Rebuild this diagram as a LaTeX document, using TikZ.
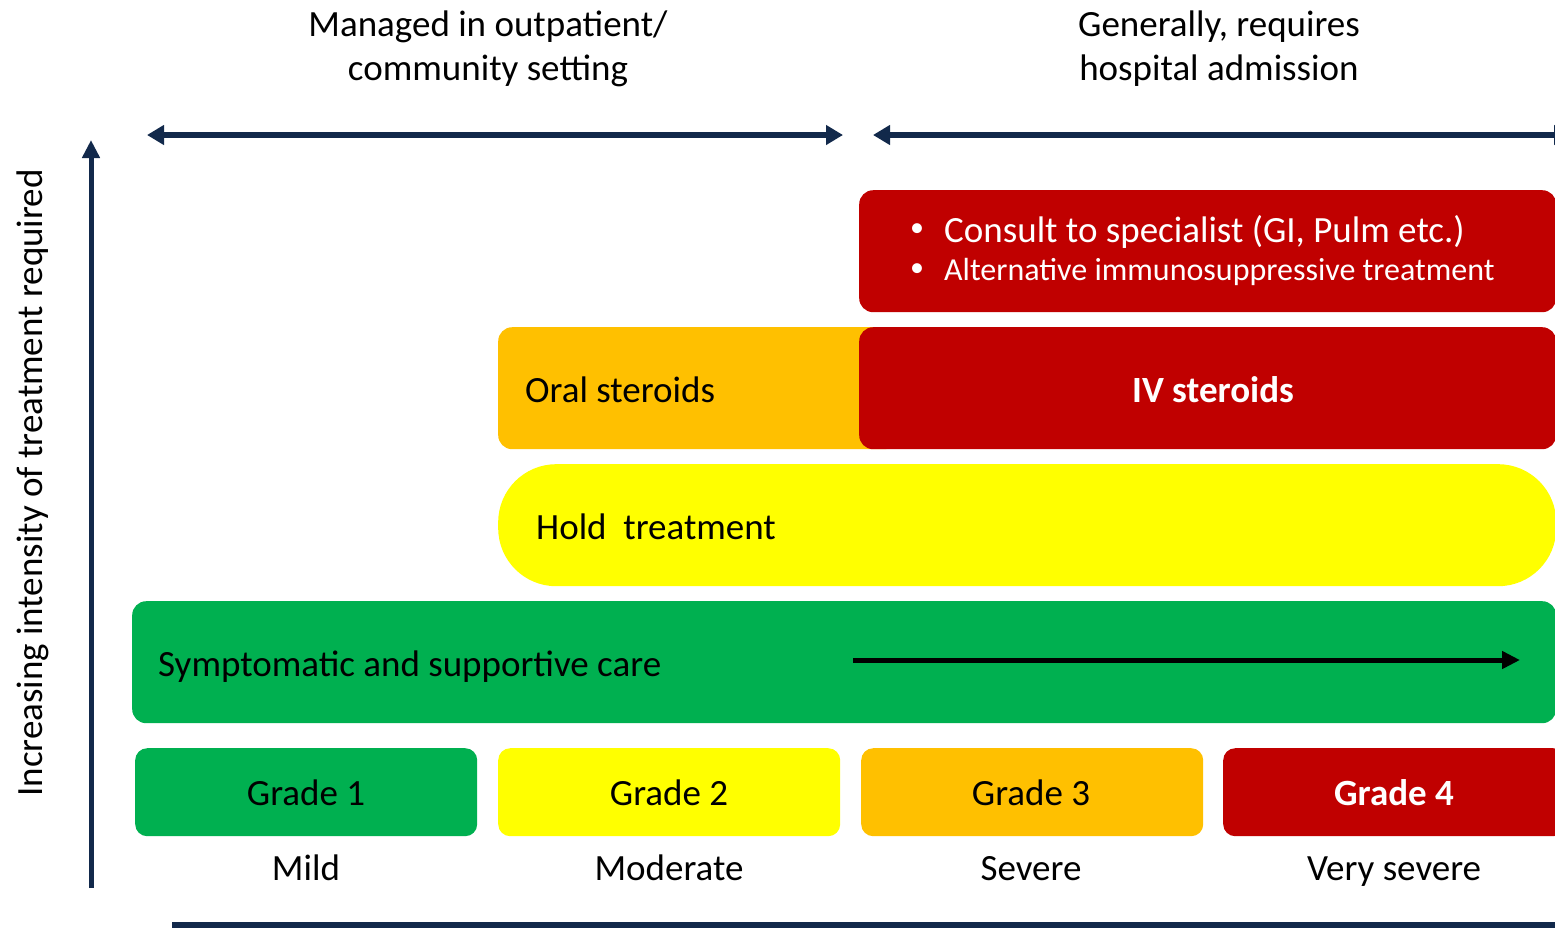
\documentclass[tikz,border=0pt]{standalone}
\usepackage{fontspec}
\setmainfont{Carlito}
\usetikzlibrary{arrows.meta}
\definecolor{navy}{HTML}{12294B}
\definecolor{gGreen}{HTML}{00B050}
\definecolor{gYellow}{HTML}{FFFF00}
\definecolor{gOrange}{HTML}{FFC000}
\definecolor{gRed}{HTML}{C00000}
\begin{document}
\begin{tikzpicture}[x=1pt,y=-1pt,
  txt/.style={font=\fontsize{37}{44}\selectfont, inner sep=0pt},
  smalltxt/.style={font=\fontsize{32}{38}\selectfont, inner sep=0pt},
  bulletmark/.style={font=\fontsize{28}{32}\selectfont, inner sep=0pt, text=white, anchor=center},
  band/.style={rounded corners=14pt, inner sep=0pt, anchor=north west},
  gradebox/.style={rounded corners=12pt, inner sep=0pt, anchor=north west,
    minimum width=342pt, minimum height=88pt},
  span/.style={draw=navy, line width=5.5pt, {Triangle[length=17pt,width=19pt]}-{Triangle[length=17pt,width=19pt]}},
  axisline/.style={draw=navy, line width=5pt},
  trend/.style={draw=black, line width=5pt, -{Triangle[length=18pt,width=17pt]}}
]
\useasboundingbox (0,0) rectangle (1555,932);

% column headings (anchored on the baseline of the second line)
\node[txt, align=center, anchor=base] (hdrout) at (488,80) {Managed in outpatient/\\community setting};
\node[txt, align=center, anchor=base] (hdrhosp) at (1219,80) {Generally, requires\\hospital admission};

% setting spans
\coordinate (outL) at (147,135);
\coordinate (outR) at (843,135);
\coordinate (hospL) at (873,135);
\coordinate (hospR) at (1571,135);
\draw[span] (outL) -- (outR);
\draw[span] (hospL) -- (hospR);

% vertical axis
\coordinate (axB) at (91,888);
\coordinate (axT) at (91,140);
\draw[axisline, -{Triangle[length=18pt,width=17pt]}] (axB) -- (axT);
\node[txt, rotate=90, anchor=base] (axlabel) at (42,483) {Increasing intensity of treatment required};

% horizontal base line
\coordinate (baseL) at (172,925);
\coordinate (baseR) at (1570,925);
\draw[axisline, line width=6pt] (baseL) -- (baseR);

% treatment bands
\node[band, fill=gRed, minimum width=697pt, minimum height=122pt] (consult) at (859,190) {};
\node[bulletmark] (b1) at (917,230) {\textbullet};
\node[txt, anchor=base west, text=white] (consulttxt) at (944,242) {Consult to specialist (GI, Pulm etc.)};
\node[bulletmark] (b2) at (917,270) {\textbullet};
\node[smalltxt, anchor=base west, text=white] (alttxt) at (944,280) {Alternative immunosuppressive treatment};

\node[band, fill=gOrange, minimum width=400pt, minimum height=122pt] (oral) at (498,327) {};
\node[txt, anchor=base west] (oraltxt) at (525,402) {Oral steroids};
\node[band, fill=gRed, minimum width=697pt, minimum height=122pt] (iv) at (859,327) {};
\node[txt, anchor=base, text=white, font=\fontsize{37}{44}\selectfont\bfseries] (ivtxt) at (1213,402) {IV steroids};

\node[band, rounded corners=58pt, fill=gYellow, minimum width=1058pt, minimum height=122pt] (hold) at (498,464) {};
\node[txt, anchor=base west] (holdtxt) at (536,539) {Hold\ \ treatment};

\node[band, fill=gGreen, minimum width=1424pt, minimum height=122pt] (care) at (132,601) {};
\node[txt, anchor=base west] (caretxt) at (158,676) {Symptomatic and supportive care};
\coordinate (trendL) at (853,660);
\coordinate (trendR) at (1520,660);
\draw[trend] (trendL) -- (trendR);

% grades
\node[gradebox, fill=gGreen] (g1) at (135,748) {};
\node[gradebox, fill=gYellow] (g2) at (498,748) {};
\node[gradebox, fill=gOrange] (g3) at (861,748) {};
\node[gradebox, fill=gRed] (g4) at (1223,748) {};
\node[txt, anchor=base] (g1t) at (306,805) {Grade 1};
\node[txt, anchor=base] (g2t) at (669,805) {Grade 2};
\node[txt, anchor=base] (g3t) at (1031,805) {Grade 3};
\node[txt, anchor=base, text=white, font=\fontsize{37}{44}\selectfont\bfseries] (g4t) at (1394,805) {Grade 4};

\node[txt, anchor=base] (s1) at (306,880) {Mild};
\node[txt, anchor=base] (s2) at (669,880) {Moderate};
\node[txt, anchor=base] (s3) at (1031,880) {Severe};
\node[txt, anchor=base] (s4) at (1394,880) {Very severe};
\end{tikzpicture}
\end{document}
